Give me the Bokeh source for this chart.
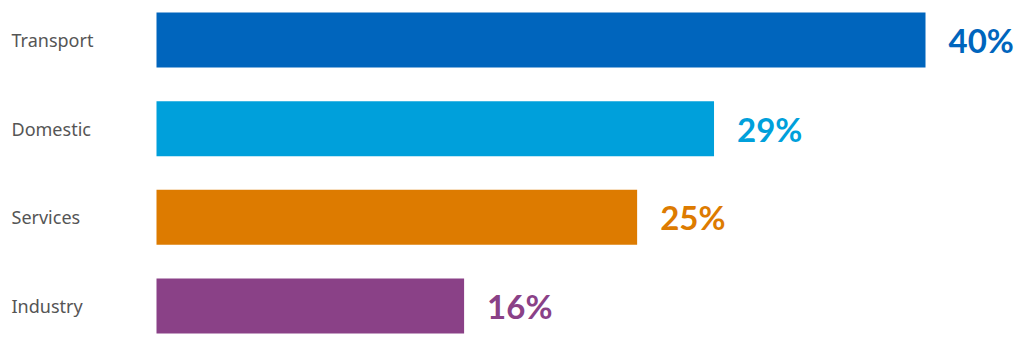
from bokeh.plotting import figure
from bokeh.models import ColumnDataSource, FactorRange, Range1d
from bokeh.core.properties import value
from bokeh.embed import file_html
from bokeh.resources import INLINE

categories = ["Transport", "Domestic", "Services", "Industry"]
shares = [40, 29, 25, 16]
value_labels = ["40%", "29%", "25%", "16%"]
colors = ["#0065BD", "#00A0DB", "#DD7B00", "#8A4187"]

px_per_unit = 769 / 40.0
x_start = -156 / px_per_unit
x_end = (1024 - 156) / px_per_unit

src = ColumnDataSource(dict(
    cat=categories, share=shares, lab=value_labels, color=colors,
    zero=[0] * len(categories),
    lx=[x_start + 11 / px_per_unit] * len(categories),
))

p = figure(width=1024, height=342, output_backend="svg", toolbar_location=None,
           y_range=FactorRange(factors=categories[::-1], range_padding=-0.0885,
                               range_padding_units="absolute"),
           x_range=Range1d(x_start, x_end),
           min_border=0, min_border_left=0, min_border_right=0,
           min_border_top=3, min_border_bottom=0)
p.axis.visible = False
p.grid.visible = False
p.outline_line_color = None
p.background_fill_color = "white"
p.border_fill_color = "white"

p.hbar(y="cat", left="zero", right="share", height=0.62, fill_color="color",
       line_color=None, source=src)

p.text(x="lx", y="cat", text="cat", source=src, text_baseline="middle",
       text_align="left", text_color="#555555", text_font=value("Noto Sans"),
       text_font_size="18px")

p.text(x="share", y="cat", text="lab", source=src, x_offset=23,
       text_baseline="middle", text_align="left", text_color="color",
       text_font=value("Lato"), text_font_style="bold", text_font_size="33px")

open("out.html", "w").write(file_html(p, INLINE))
